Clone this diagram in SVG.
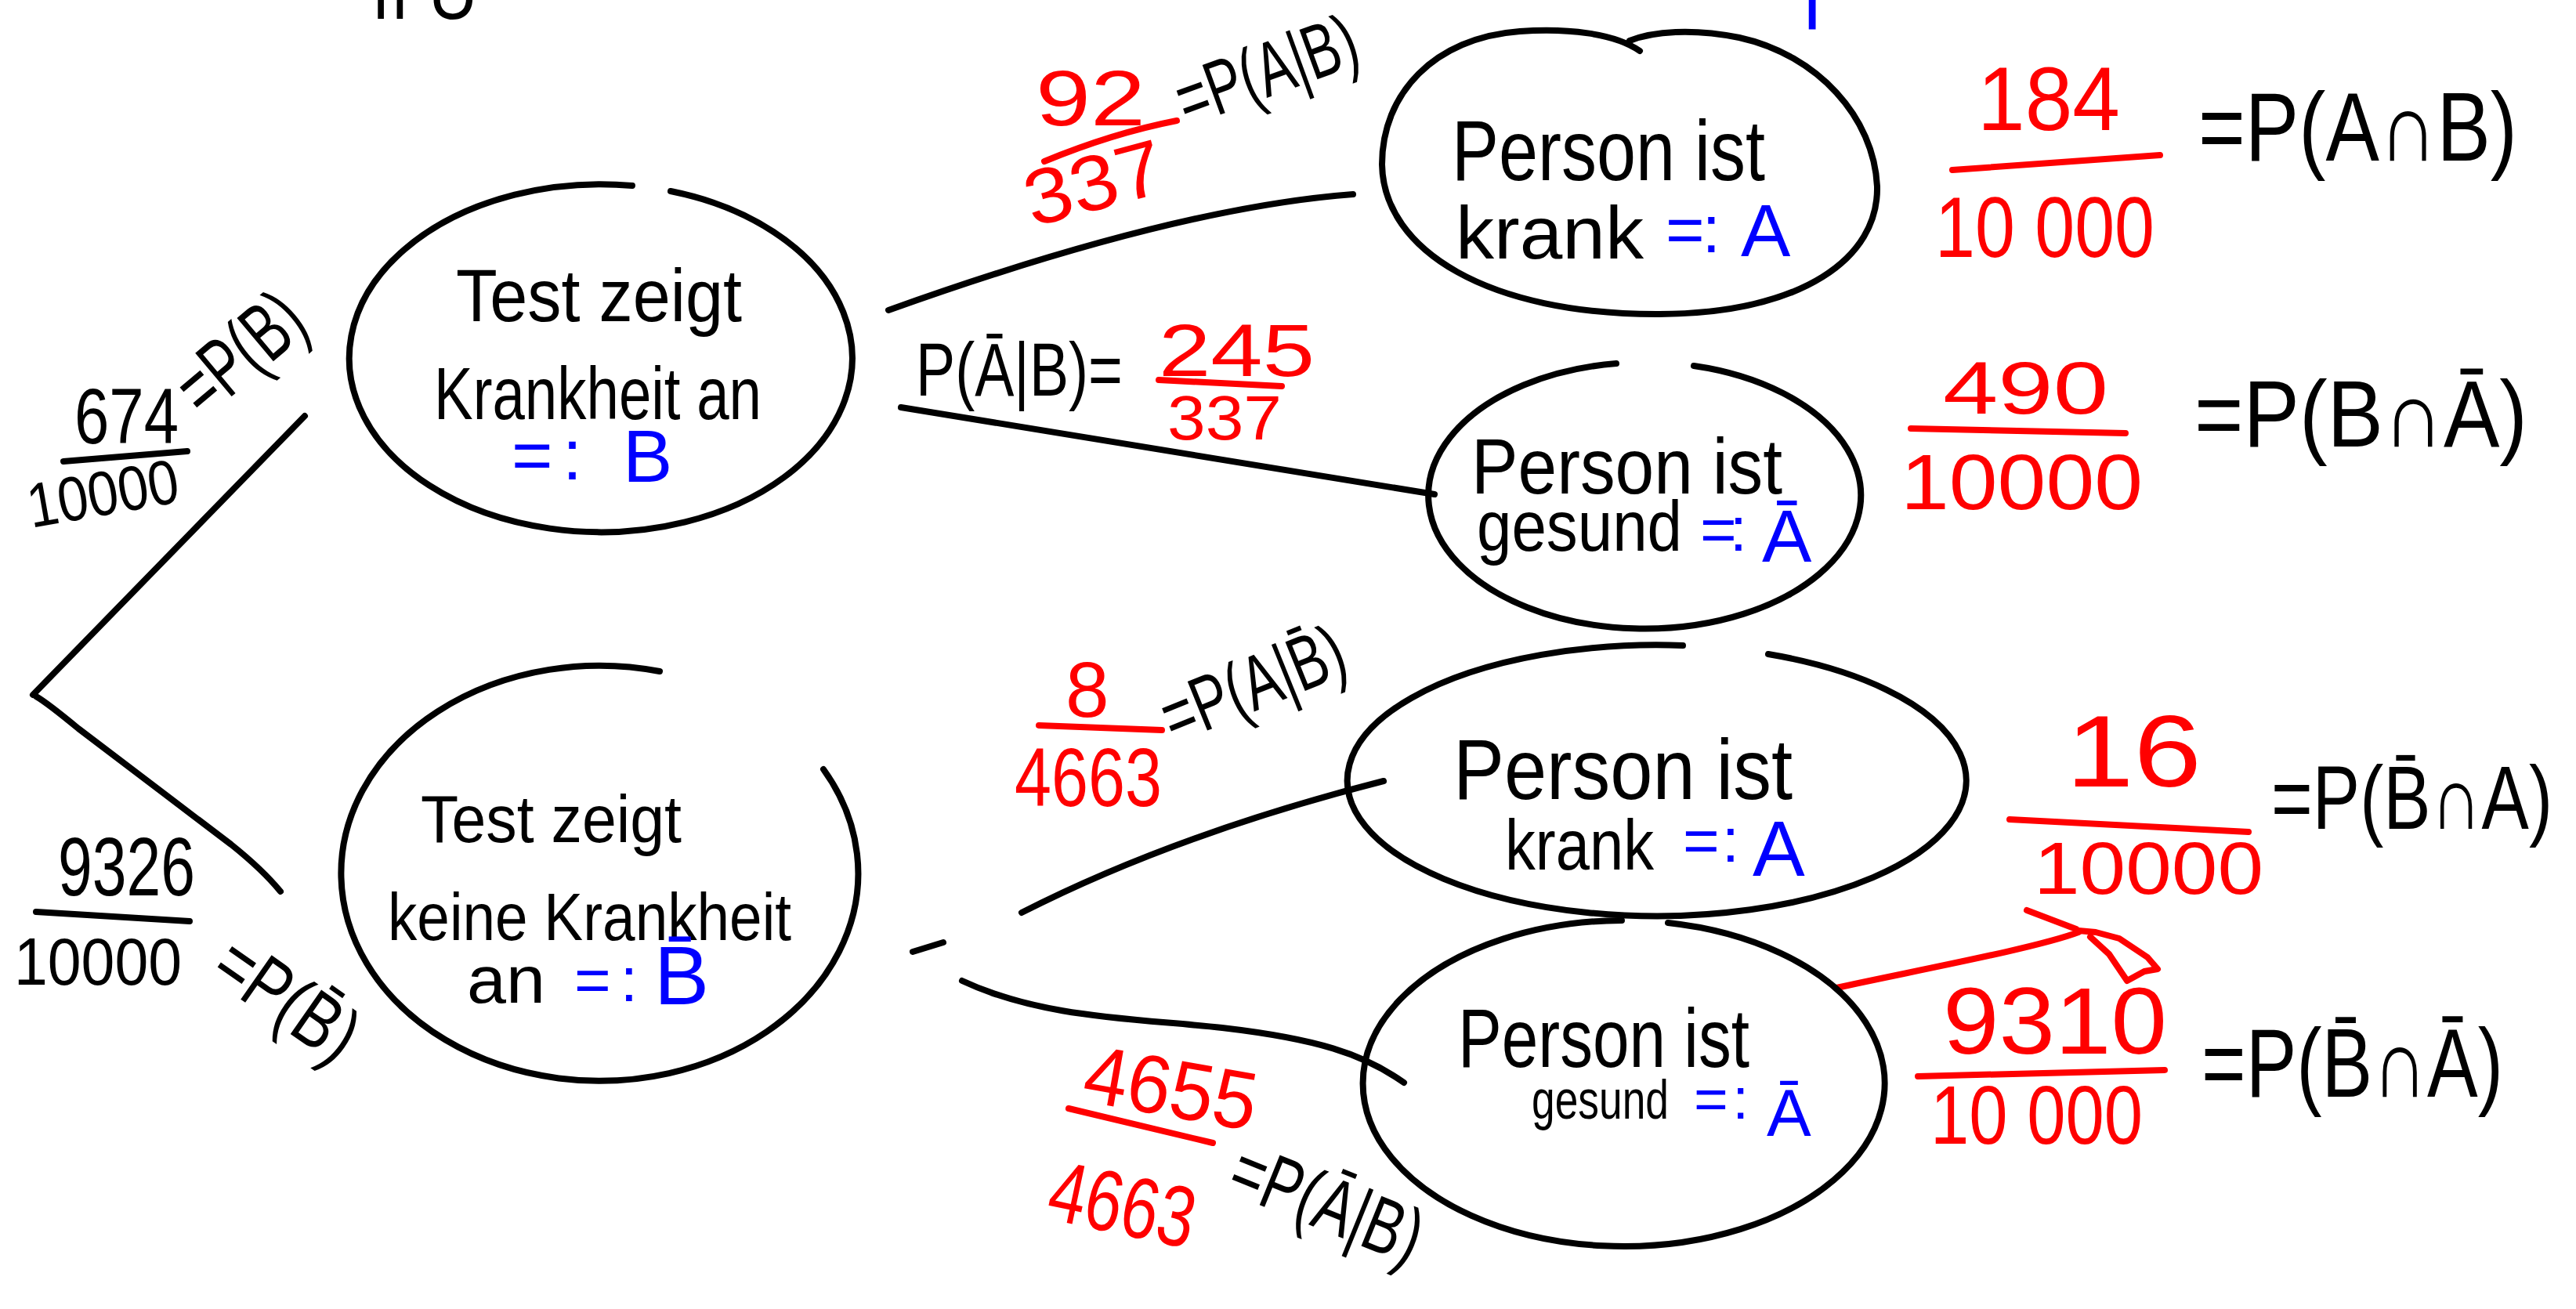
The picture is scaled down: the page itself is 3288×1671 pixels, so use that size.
<svg xmlns="http://www.w3.org/2000/svg" width="3288" height="1671" viewBox="0 0 3288 1671">
  <style>
    text { font-family: "Liberation Sans", "DejaVu Sans", sans-serif; }
    .k { fill: #000; }
    .r { fill: #ff0000; }
    .b { fill: #0000ff; }
    .ln { fill: none; stroke: #000; stroke-width: 8; stroke-linecap: round; stroke-linejoin: round; }
    .rl { fill: none; stroke: #ff0000; stroke-width: 8; stroke-linecap: round; stroke-linejoin: round; }
    .kl { fill: none; stroke: #000; stroke-width: 8; stroke-linecap: round; }
  </style>
  <rect width="3288" height="1671" fill="#fff"/>

  <!-- fragments of writing cut off at the top edge -->
  <text class="k" x="474" y="24" font-size="100" textLength="136" lengthAdjust="spacingAndGlyphs">ıı U</text>
  <text class="b" x="2302" y="38" font-size="100">l</text>

  <!-- tree branches -->
  <g id="connectors">
    <path class="ln" d="M389,531 L42,887"/>
    <path class="ln" d="M46,889 Q60,897 100,930 L295,1078 Q335,1110 358,1138"/>
    <path class="ln" d="M1134,396 Q1500,265 1727,248"/>
    <path class="ln" d="M1150,520 L1831,631"/>
    <path class="ln" d="M1304,1165 Q1500,1065 1766,997"/>
    <path class="ln" d="M1165,1215 L1204,1203"/>
    <path class="ln" d="M1228,1252 C1330,1300 1450,1300 1560,1312 C1680,1326 1740,1345 1792,1382"/>
    <!-- red arrow towards the joint probabilities -->
    <path class="rl" d="M2344,1261 C2450,1238 2600,1210 2653,1190"/>
    <path class="rl" d="M2587,1162 L2650,1186"/>
    <path class="rl" d="M2653,1188 L2675,1190 L2705,1198 L2741,1222 L2754,1237 L2737,1240 L2715,1252 L2692,1218 L2668,1196"/>
  </g>

  <!-- first level: test result -->
  <g id="node-B">
    <path class="ln" d="M856,244 A321,222 0 1 1 807,237"/>
    <text class="k" x="582" y="410" font-size="95" textLength="365" lengthAdjust="spacingAndGlyphs">Test zeigt</text>
    <text class="k" x="554" y="535" font-size="95" textLength="418" lengthAdjust="spacingAndGlyphs">Krankheit an</text>
    <text class="b" x="653" y="612" font-size="90" textLength="90">=:</text>
    <text class="b" x="795" y="615" font-size="95">B</text>
  </g>

  <g id="node-notB">
    <path class="ln" d="M1051,982 A330,265 0 1 1 842,857"/>
    <text class="k" x="537" y="1075" font-size="85" textLength="333" lengthAdjust="spacingAndGlyphs">Test zeigt</text>
    <text class="k" x="495" y="1200" font-size="85" textLength="515" lengthAdjust="spacingAndGlyphs">keine Krankheit</text>
    <text class="k" x="596" y="1280" font-size="85" textLength="100" lengthAdjust="spacingAndGlyphs">an</text>
    <text class="b" x="733" y="1278" font-size="80" textLength="81">=:</text>
    <text class="b" x="835" y="1282" font-size="105">B̄</text>
  </g>

  <!-- second level: health state -->
  <g id="node-A-given-B">
    <path class="ln" d="M2093,65 C2060,42 2000,36 1940,40 C1830,48 1764,120 1764,210 C1766,320 1900,402 2118,401 C2300,400 2398,330 2396,238 C2392,150 2320,70 2220,48 C2160,36 2110,40 2080,52"/>
    <text class="k" x="1853" y="230" font-size="110" textLength="400" lengthAdjust="spacingAndGlyphs">Person ist</text>
    <text class="k" x="1858" y="330" font-size="95" textLength="240" lengthAdjust="spacingAndGlyphs">krank</text>
    <text class="b" x="2126" y="322" font-size="85" textLength="70">=:</text>
    <text class="b" x="2222" y="327" font-size="95">A</text>
  </g>

  <g id="node-notA-given-B">
    <path class="ln" d="M2162,467 A276,170 0 1 1 2063,464"/>
    <text class="k" x="1878" y="630" font-size="100" textLength="397" lengthAdjust="spacingAndGlyphs">Person ist</text>
    <text class="k" x="1885" y="703" font-size="90" textLength="262" lengthAdjust="spacingAndGlyphs">gesund</text>
    <text class="b" x="2170" y="703" font-size="80" textLength="60">=:</text>
    <text class="b" x="2249" y="717" font-size="95">Ā</text>
  </g>

  <g id="node-A-given-notB">
    <path class="ln" d="M2257,835 A395,173 0 1 1 2148,824"/>
    <text class="k" x="1855" y="1020" font-size="110" textLength="433" lengthAdjust="spacingAndGlyphs">Person ist</text>
    <text class="k" x="1921" y="1110" font-size="90" textLength="190" lengthAdjust="spacingAndGlyphs">krank</text>
    <text class="b" x="2148" y="1100" font-size="80" textLength="72">=:</text>
    <text class="b" x="2237" y="1118" font-size="100">A</text>
  </g>

  <g id="node-notA-given-notB">
    <path class="ln" d="M2129,1178 A333,208 0 1 1 2070,1175"/>
    <text class="k" x="1861" y="1362" font-size="105" textLength="372" lengthAdjust="spacingAndGlyphs">Person ist</text>
    <text class="k" x="1955" y="1428" font-size="70" textLength="175" lengthAdjust="spacingAndGlyphs">gesund</text>
    <text class="b" x="2162" y="1428" font-size="75" textLength="70">=:</text>
    <text class="b" x="2255" y="1450" font-size="85">Ā</text>
  </g>

  <!-- branch probabilities -->
  <g id="labels-first-level">
    <text class="k" x="95" y="566" font-size="100" textLength="133" lengthAdjust="spacingAndGlyphs">674</text>
    <path class="kl" d="M81,589 L239,576"/>
    <text class="k" x="40" y="674" font-size="80" textLength="195" lengthAdjust="spacingAndGlyphs" transform="rotate(-10 40 674)">10000</text>
    <text class="k" x="260" y="536" font-size="105" textLength="180" lengthAdjust="spacingAndGlyphs" transform="rotate(-40 260 536)">=P(B)</text>

    <text class="k" x="74" y="1143" font-size="105" textLength="175" lengthAdjust="spacingAndGlyphs">9326</text>
    <path class="kl" d="M46,1164 L242,1176"/>
    <text class="k" x="18" y="1257" font-size="85" textLength="214" lengthAdjust="spacingAndGlyphs">10000</text>
    <text class="k" x="265" y="1246" font-size="100" textLength="200" lengthAdjust="spacingAndGlyphs" transform="rotate(35 265 1246)">=P(B̄)</text>
  </g>

  <g id="labels-second-level">
    <text class="r" x="1322" y="160" font-size="100" textLength="140" lengthAdjust="spacingAndGlyphs">92</text>
    <path class="rl" d="M1333,206 Q1420,170 1502,154"/>
    <text class="r" x="1318" y="290" font-size="100" textLength="180" lengthAdjust="spacingAndGlyphs" transform="rotate(-15 1318 290)">337</text>
    <text class="k" x="1515" y="162" font-size="98" textLength="240" lengthAdjust="spacingAndGlyphs" transform="rotate(-20 1515 162)">=P(A|B)</text>

    <text class="k" x="1169" y="505" font-size="96" textLength="264" lengthAdjust="spacingAndGlyphs">P(Ā|B)=</text>
    <text class="r" x="1479" y="480" font-size="95" textLength="199" lengthAdjust="spacingAndGlyphs">245</text>
    <path class="rl" d="M1479,485 L1636,493"/>
    <text class="r" x="1490" y="561" font-size="80" textLength="146" lengthAdjust="spacingAndGlyphs">337</text>

    <text class="r" x="1360" y="915" font-size="100">8</text>
    <path class="rl" d="M1326,926 L1483,932"/>
    <text class="r" x="1295" y="1029" font-size="105" textLength="188" lengthAdjust="spacingAndGlyphs">4663</text>
    <text class="k" x="1498" y="950" font-size="98" textLength="245" lengthAdjust="spacingAndGlyphs" transform="rotate(-22 1498 950)">=P(A|B̄)</text>

    <text class="r" x="1379" y="1405" font-size="105" textLength="222" lengthAdjust="spacingAndGlyphs" transform="rotate(10 1379 1405)">4655</text>
    <path class="rl" d="M1364,1415 L1548,1459"/>
    <text class="r" x="1333" y="1555" font-size="110" textLength="188" lengthAdjust="spacingAndGlyphs" transform="rotate(12 1333 1555)">4663</text>
    <text class="k" x="1563" y="1520" font-size="100" textLength="255" lengthAdjust="spacingAndGlyphs" transform="rotate(22 1563 1520)">=P(Ā|B)</text>
  </g>

  <!-- joint probabilities -->
  <g id="labels-joint">
    <text class="r" x="2524" y="166" font-size="115" textLength="182" lengthAdjust="spacingAndGlyphs">184</text>
    <path class="rl" d="M2492,217 L2757,198"/>
    <text class="r" x="2470" y="328" font-size="110" textLength="280" lengthAdjust="spacingAndGlyphs">10 000</text>
    <text class="k" x="2806" y="205" font-size="125" textLength="407" lengthAdjust="spacingAndGlyphs">=P(A∩B)</text>

    <text class="r" x="2480" y="528" font-size="95" textLength="211" lengthAdjust="spacingAndGlyphs">490</text>
    <path class="rl" d="M2439,547 L2713,553"/>
    <text class="r" x="2426" y="650" font-size="100" textLength="309" lengthAdjust="spacingAndGlyphs">10000</text>
    <text class="k" x="2801" y="570" font-size="120" textLength="425" lengthAdjust="spacingAndGlyphs">=P(B∩Ā)</text>

    <text class="r" x="2637" y="1004" font-size="130" textLength="173" lengthAdjust="spacingAndGlyphs">16</text>
    <path class="rl" d="M2565,1046 L2870,1062"/>
    <text class="r" x="2596" y="1141" font-size="95" textLength="293" lengthAdjust="spacingAndGlyphs">10000</text>
    <text class="k" x="2899" y="1058" font-size="115" textLength="359" lengthAdjust="spacingAndGlyphs">=P(B̄∩A)</text>

    <text class="r" x="2480" y="1345" font-size="120" textLength="286" lengthAdjust="spacingAndGlyphs">9310</text>
    <path class="rl" d="M2448,1374 L2763,1366"/>
    <text class="r" x="2464" y="1460" font-size="105" textLength="271" lengthAdjust="spacingAndGlyphs">10 000</text>
    <text class="k" x="2810" y="1400" font-size="125" textLength="385" lengthAdjust="spacingAndGlyphs">=P(B̄∩Ā)</text>
  </g>
</svg>
